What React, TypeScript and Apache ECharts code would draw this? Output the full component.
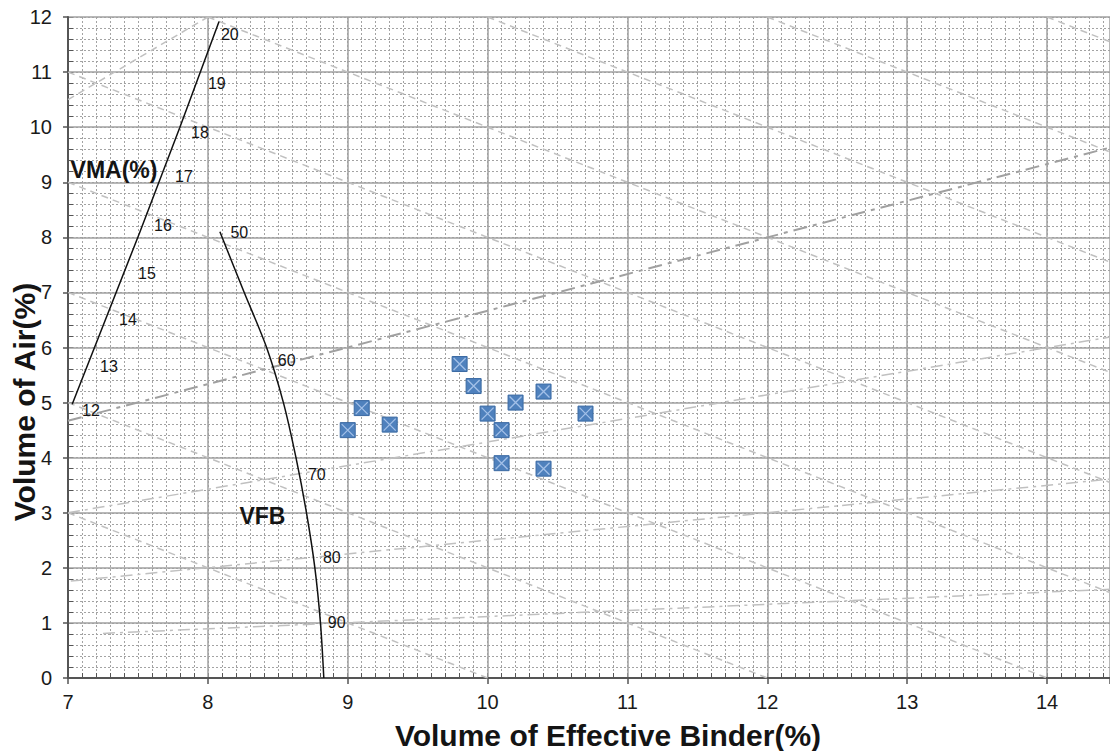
import React, { useEffect, useRef } from "react";
import * as echarts from "echarts";

// Axis ranges
const X_MIN = 7;
const X_MAX = 14.45;
const Y_MIN = 0;
const Y_MAX = 12;

// Axis titles
const X_TITLE = "Volume of Effective Binder(%)";
const Y_TITLE = "Volume of Air(%)";

// Measured mixes: [Volume of effective binder %, Volume of air %]
const mixPoints: number[][] = [
  [9.0, 4.5],
  [9.1, 4.9],
  [9.3, 4.6],
  [9.8, 5.7],
  [9.9, 5.3],
  [10.0, 4.8],
  [10.2, 5.0],
  [10.1, 4.5],
  [10.4, 5.2],
  [10.7, 4.8],
  [10.1, 3.9],
  [10.4, 3.8],
];

// VMA scale line (black)
const vmaScaleLine: number[][] = [
  [7.03, 4.97],
  [7.51, 8.07],
  [7.8, 10.0],
  [8.08, 11.92],
];

// VFB scale curve (black)
const vfbScaleCurve: number[][] = [
  [8.086, 8.1],
  [8.26, 7.0],
  [8.42, 6.0],
  [8.54, 5.0],
  [8.63, 4.0],
  [8.705, 3.0],
  [8.765, 2.0],
  [8.805, 1.0],
  [8.829, 0.0],
];

// VMA contour lines (dashed, descending) — endpoints
const vmaContours: number[][][] = [
  [[7, 3], [10, 0]],
  [[7, 5], [12, 0]],
  [[7, 7], [14, 0]],
  [[7, 9], [14.45, 1.55]],
  [[7, 11], [14.45, 3.55]],
  [[8, 12], [14.45, 5.55]],
  [[10, 12], [14.45, 7.55]],
  [[12, 12], [14.45, 9.55]],
  [[14, 12], [14.45, 11.55]],
];

// VFB contour lines (ascending) — endpoints
const vfbContour40: number[][] = [[7, 10.5], [8, 12]];
const vfbContour60: number[][] = [[7.0, 4.67], [14.45, 9.63]];
const vfbContoursOther: number[][][] = [
  [[7, 3.0], [14.45, 6.19]],
  [[7.02, 1.76], [14.45, 3.61]],
  [[7.25, 0.81], [14.45, 1.61]],
];

// Scale labels
const vmaLabelTexts = ["12", "13", "14", "15", "16", "17", "18", "19", "20"];
const vmaLabelPos: number[][] = [
  [7.164, 4.85],
  [7.293, 5.65],
  [7.429, 6.5],
  [7.564, 7.34],
  [7.679, 8.21],
  [7.829, 9.1],
  [7.943, 9.91],
  [8.064, 10.8],
  [8.157, 11.69],
];
const vfbLabelTexts = ["50", "60", "70", "80", "90"];
const vfbLabelPos: number[][] = [
  [8.225, 8.09],
  [8.564, 5.76],
  [8.779, 3.69],
  [8.886, 2.18],
  [8.921, 1.0],
];
const titleTexts = ["VMA(%)", "VFB"];
const titlePos: number[][] = [
  [7.329, 9.22],
  [8.39, 2.94],
];

const FONT = "'Liberation Sans', Arial, Helvetica, sans-serif";

export default function App() {
  const ref = useRef<HTMLDivElement>(null);

  useEffect(() => {
    if (!ref.current) return;
    const chart = echarts.init(ref.current, undefined, { renderer: "svg" });

    const gridLineMajor = { show: true, lineStyle: { color: "#a0a0a0", width: 1.5, type: "solid" } };
    const gridLineMinor = { show: true, lineStyle: { color: "#a3a3a3", width: 1, type: [2, 2] } };

    const series: any[] = [];

    vmaContours.forEach((seg) => {
      series.push({
        type: "line",
        data: seg,
        symbol: "none",
        silent: true,
        z: 2,
        lineStyle: { color: "#c0c0c0", width: 1.5, type: [7, 5] },
      });
    });

    series.push({
      type: "line",
      data: vfbContour40,
      symbol: "none",
      silent: true,
      z: 2,
      lineStyle: { color: "#c0c0c0", width: 1.5, type: [7, 5] },
    });

    vfbContoursOther.forEach((seg) => {
      series.push({
        type: "line",
        data: seg,
        symbol: "none",
        silent: true,
        z: 2,
        lineStyle: { color: "#c0c0c0", width: 1.5, type: [12, 5, 3, 5] },
      });
    });

    series.push({
      type: "line",
      data: vfbContour60,
      symbol: "none",
      silent: true,
      z: 2,
      lineStyle: { color: "#a0a0a0", width: 2, type: [14, 6, 4, 6] },
    });

    series.push({
      type: "line",
      data: vmaScaleLine,
      symbol: "none",
      silent: true,
      z: 3,
      lineStyle: { color: "#111", width: 1.5 },
    });

    series.push({
      type: "line",
      data: vfbScaleCurve,
      symbol: "none",
      smooth: 0.3,
      silent: true,
      z: 3,
      lineStyle: { color: "#111", width: 1.5 },
    });

    series.push({
      type: "scatter",
      data: mixPoints,
      symbol: "rect",
      symbolSize: 15,
      z: 4,
      itemStyle: { color: "#4F81BD", borderColor: "#3B6AA3", borderWidth: 1, opacity: 1 },
    });

    series.push({
      type: "scatter",
      data: mixPoints,
      symbol: "path://M0,0L10,10M10,0L0,10",
      symbolSize: 12,
      z: 5,
      itemStyle: { color: "rgba(0,0,0,0)", borderColor: "#a3c0e8", borderWidth: 1.3, opacity: 1 },
    });

    const labelSeries = (texts: string[], pos: number[][], size: number, bold: boolean) => ({
      type: "scatter",
      data: pos.map((p, i) => ({ value: p, name: texts[i] })),
      symbolSize: 1,
      silent: true,
      z: 6,
      itemStyle: { color: "rgba(0,0,0,0)", opacity: 1 },
      label: {
        show: true,
        position: "inside",
        formatter: "{b}",
        color: "#141414",
        textBorderWidth: 0,
        fontFamily: FONT,
        fontSize: size,
        fontWeight: bold ? "bold" : "normal",
      },
    });

    series.push(labelSeries(vmaLabelTexts, vmaLabelPos, 16, false));
    series.push(labelSeries(vfbLabelTexts, vfbLabelPos, 16, false));
    series.push(labelSeries(titleTexts, titlePos, 23, true));

    chart.setOption({
      animation: false,
      grid: { left: 68, top: 17, right: 0, bottom: 73, containLabel: false, outerBoundsMode: "none" },
      graphic: [
        {
          type: "text",
          x: 608,
          y: 735,
          style: {
            text: X_TITLE,
            font: `bold 30px ${FONT}`,
            fill: "#141414",
            textAlign: "center",
            textVerticalAlign: "middle",
          },
        },
        {
          type: "text",
          x: 24,
          y: 402,
          rotation: Math.PI / 2,
          style: {
            text: Y_TITLE,
            font: `bold 30px ${FONT}`,
            fill: "#141414",
            textAlign: "center",
            textVerticalAlign: "middle",
          },
        },
      ],
      xAxis: [
        {
          type: "value",
          min: X_MIN,
          max: X_MAX,
          interval: 1,
          position: "bottom",
          z: 1,
          axisLine: { show: true, onZero: false, lineStyle: { color: "#555", width: 2 } },
          axisTick: { show: true, length: 6, lineStyle: { color: "#555", width: 1.5 } },
          axisLabel: {
            margin: 14,
            fontFamily: FONT,
            fontSize: 20,
            color: "#1a1a1a",
            formatter: (v: number) => (Math.abs(v - Math.round(v)) < 1e-6 ? String(Math.round(v)) : ""),
          },
          splitLine: gridLineMajor,
        },
        {
          type: "value",
          min: X_MIN,
          max: X_MAX,
          interval: 0.1,
          position: "bottom",
          z: 0,
          axisLine: { show: false, onZero: false },
          axisTick: { show: true, inside: true, length: 5, lineStyle: { color: "#555", width: 1 } },
          axisLabel: { show: false },
          splitLine: gridLineMinor,
        },
      ],
      yAxis: [
        {
          type: "value",
          min: Y_MIN,
          max: Y_MAX,
          interval: 1,
          position: "left",
          z: 1,
          axisLine: { show: true, onZero: false, lineStyle: { color: "#555", width: 2 } },
          axisTick: { show: true, length: 5, lineStyle: { color: "#555", width: 1.5 } },
          axisLabel: { margin: 16, fontFamily: FONT, fontSize: 20, color: "#1a1a1a" },
          splitLine: gridLineMajor,
        },
        {
          type: "value",
          min: Y_MIN,
          max: Y_MAX,
          interval: 0.2,
          position: "left",
          z: 0,
          axisLine: { show: false, onZero: false },
          axisTick: { show: true, inside: true, length: 5, lineStyle: { color: "#555", width: 1 } },
          axisLabel: { show: false },
          splitLine: gridLineMinor,
        },
      ],
      series,
    });

    return () => {
      chart.dispose();
    };
  }, []);

  return (
    <div
      ref={ref}
      style={{ position: "fixed", left: 0, top: 0, width: 1110, height: 751, background: "#fff" }}
    />
  );
}
